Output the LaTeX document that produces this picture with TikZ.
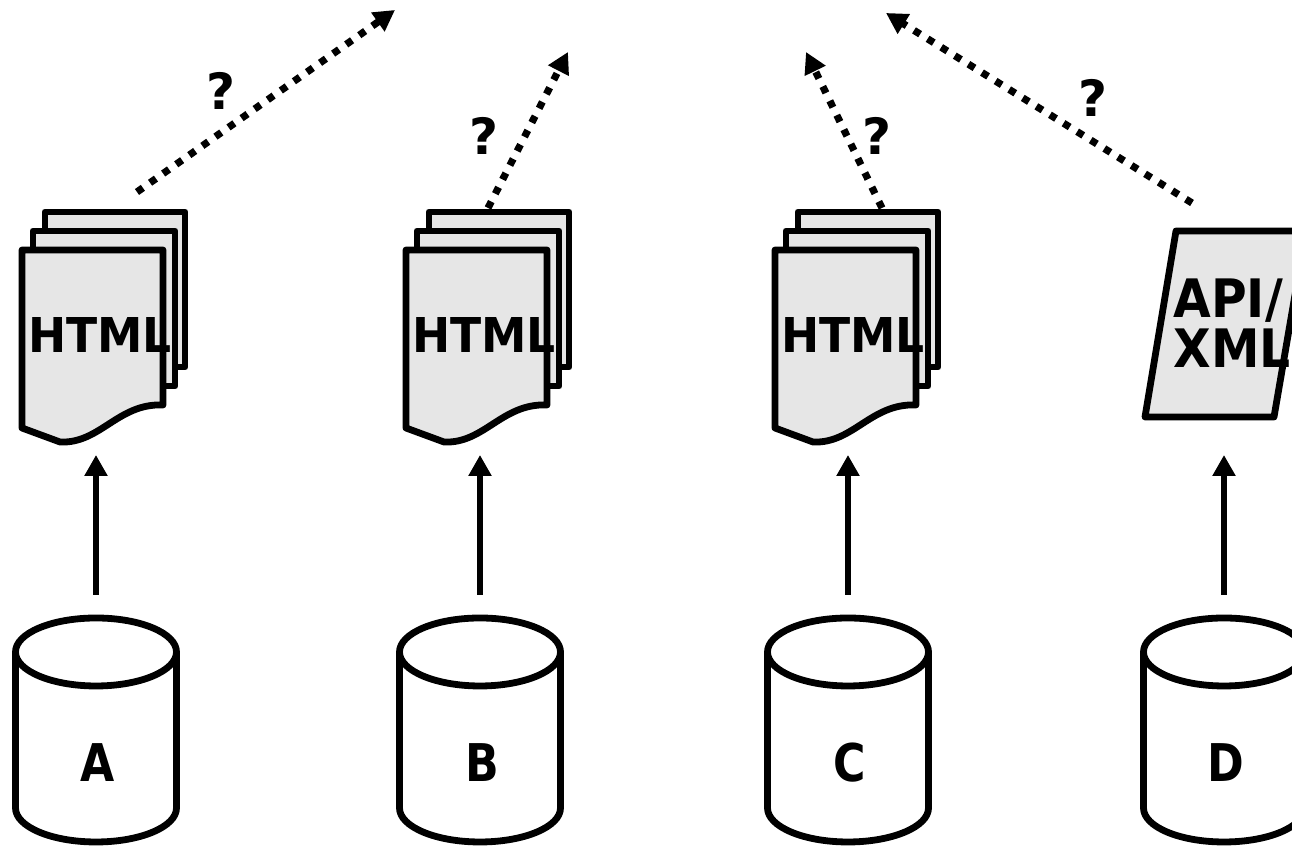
\documentclass[tikz,border=0pt]{standalone}
\usepackage{fontspec}
\setmainfont{DejaVu Sans}
\usetikzlibrary{arrows.meta}
\definecolor{docfill}{HTML}{E6E6E6}
\tikzset{
  shapeline/.style={line width=3.4pt, line join=round, draw=black},
  docpage/.style={shapeline, fill=docfill},
  cyl/.style={shapeline, fill=white},
  uparrow/.style={line width=3.2pt, -{Triangle[length=10.5pt,width=11pt]}},
  dotarrow/.style={line width=3.6pt, dash pattern=on 3.6pt off 4.4pt, -{Triangle[length=10.5pt,width=11pt]}},
  bigtxt/.style={font=\bfseries\fontsize{24}{26}\selectfont, inner sep=0pt, anchor=base},
  apitxt/.style={font=\bfseries\fontsize{26.5}{28}\selectfont, inner sep=0pt, anchor=base west},
  dbtxt/.style={font=\bfseries\fontsize{26}{28}\selectfont, inner sep=0pt, anchor=base},
  qtxt/.style={font=\bfseries\fontsize{25}{27}\selectfont, inner sep=0pt, anchor=base}
}
\newcommand{\narrowtxt}[2]{\scalebox{#1}[1]{#2}}
\begin{document}
\begin{tikzpicture}[x=0.5pt,y=0.5pt]
\useasboundingbox (0,0) rectangle (1292,849);
% cylinders
\foreach \cx/\nm/\lab in {96/A/A,480/B/B,848/C/C,1224/D/D}{
  \draw[cyl] (\cx-80.5,197) -- (\cx-80.5,41) arc[start angle=180,end angle=360,x radius=40.25pt,y radius=17pt] -- (\cx+80.5,197);
  \draw[cyl] (\cx,197) ellipse[x radius=40.25pt,y radius=17pt];
  \node[dbtxt] (db\nm) at (\cx+2,67) {\narrowtxt{0.85}{\lab}};
  \coordinate (dbtop\nm) at (\cx,254);
  \coordinate (docbot\nm) at (\cx,394);
  \draw[uparrow] (dbtop\nm) -- (docbot\nm);
}
% HTML document stacks
\foreach \dx/\nm in {0/A,384/B,753/C}{
  \begin{scope}[xshift=\dx*0.5pt]
    \draw[docpage] (45,637) rectangle (185,482);
    \draw[docpage] (33,618) rectangle (175,463);
    \draw[docpage] (22,599) -- (163,599) -- (163,444)
       .. controls (118,446) and (100,405) .. (60,407) -- (22,421) -- cycle;
    \node[bigtxt] (html\nm) at (100,496) {\narrowtxt{0.95}{HTML}};
  \end{scope}
}
% API/XML parallelogram
\draw[docpage] (1176,618) -- (1306,618) -- (1274,432) -- (1145,432) -- cycle;
\node[apitxt] (api) at (1173,531) {\narrowtxt{0.92}{API/}};
\node[apitxt] (xml) at (1173,481) {\narrowtxt{0.92}{XML}};
% dotted arrows
\coordinate (sA) at (137,657); \coordinate (tA) at (395,839);
\coordinate (sB) at (488,641); \coordinate (tB) at (568,797);
\coordinate (sC) at (882,641); \coordinate (tC) at (806,797);
\coordinate (sD) at (1192,646); \coordinate (tD) at (886,836);
\draw[dotarrow] (sA) -- (tA);
\draw[dotarrow] (sB) -- (tB);
\draw[dotarrow] (sC) -- (tC);
\draw[dotarrow] (sD) -- (tD);
\node[qtxt] (qA) at (221,739) {?};
\node[qtxt] (qB) at (484,694) {?};
\node[qtxt] (qC) at (877,694) {?};
\node[qtxt] (qD) at (1093,732) {?};
\end{tikzpicture}
\end{document}
